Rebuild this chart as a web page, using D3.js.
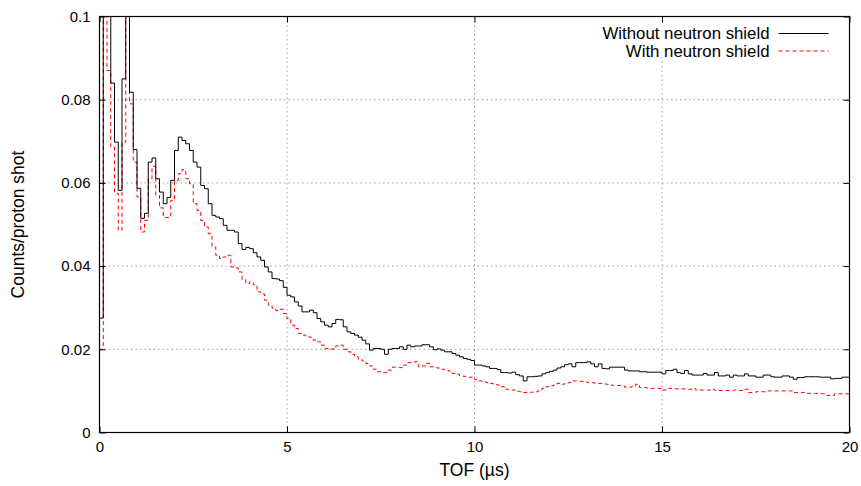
<!DOCTYPE html>
<html>
<head>
<meta charset="utf-8">
<script src="https://cdn.jsdelivr.net/npm/d3@7"></script>
<style>
  body { margin: 0; background: #fff; }
  svg { display: block; }
  text { font-family: "Liberation Sans", Arial, sans-serif; }
</style>
</head>
<body>
<svg id="chart" width="861" height="486"></svg>
<script>
// TOF histogram, 0.1 us bins from 0 to 20 us
const binWidth = 0.1;

const withoutShield = [
  0.0275, 0.12, 0.12, 0.084, 0.0698, 0.0582, 0.085, 0.12, 0.0818, 0.068,
  0.0587, 0.0515, 0.0527, 0.065, 0.066, 0.061, 0.0578, 0.055, 0.0565, 0.0606,
  0.0678, 0.071, 0.0702, 0.0694, 0.0678, 0.065, 0.0638, 0.0594, 0.0586, 0.055,
  0.0522, 0.0518, 0.0514, 0.0498, 0.0486, 0.0486, 0.0482, 0.0454, 0.044, 0.0445,
  0.0442, 0.0432, 0.0422, 0.0414, 0.0398, 0.0386, 0.037, 0.0369, 0.0365, 0.0349,
  0.033, 0.0326, 0.0314, 0.0304, 0.029, 0.029, 0.0294, 0.0288, 0.0274, 0.0266,
  0.0258, 0.0254, 0.0262, 0.0272, 0.0271, 0.0254, 0.0242, 0.0238, 0.0234, 0.0229,
  0.0222, 0.0213, 0.0198, 0.0202, 0.0202, 0.020, 0.0188, 0.020, 0.0202, 0.0202,
  0.0206, 0.020, 0.021, 0.0206, 0.0208, 0.0208, 0.0211, 0.0211, 0.0206, 0.0199,
  0.0201, 0.0198, 0.0194, 0.0194, 0.019, 0.0186, 0.0182, 0.0178, 0.0176, 0.0173,
  0.0162, 0.0162, 0.016, 0.0158, 0.0154, 0.0154, 0.0151, 0.0144, 0.0144, 0.0143,
  0.0145, 0.0139, 0.0136, 0.0124, 0.0134, 0.0134, 0.0135, 0.0136, 0.0141, 0.0144,
  0.0147, 0.015, 0.0155, 0.0158, 0.0163, 0.0165, 0.0158, 0.0168, 0.0168, 0.0168,
  0.017, 0.0165, 0.0158, 0.0165, 0.0154, 0.0153, 0.0157, 0.0157, 0.0157, 0.0157,
  0.015, 0.0148, 0.0148, 0.0148, 0.0146, 0.0146, 0.0145, 0.0145, 0.0145, 0.0145,
  0.0141, 0.0149, 0.0149, 0.0152, 0.0144, 0.0142, 0.0149, 0.0141, 0.0138, 0.0138,
  0.0138, 0.0142, 0.0138, 0.0138, 0.0144, 0.0136, 0.0136, 0.0138, 0.0133, 0.0138,
  0.0136, 0.0136, 0.0141, 0.0136, 0.0136, 0.0133, 0.0133, 0.0138, 0.0138, 0.0134,
  0.0133, 0.0133, 0.0136, 0.0136, 0.0133, 0.0128, 0.0132, 0.0132, 0.0134, 0.0134,
  0.0134, 0.0134, 0.0133, 0.0133, 0.0133, 0.0129, 0.013, 0.013, 0.0133, 0.0133
];

const withShield = [
  0.020, 0.12, 0.087, 0.0686, 0.0575, 0.0486, 0.0698, 0.12, 0.079, 0.065,
  0.0566, 0.0482, 0.051, 0.061, 0.064, 0.057, 0.054, 0.0517, 0.0517, 0.0558,
  0.0606, 0.0622, 0.0632, 0.061, 0.0598, 0.055, 0.0534, 0.051, 0.0494, 0.0478,
  0.0446, 0.0426, 0.0418, 0.0422, 0.0426, 0.0398, 0.0396, 0.0386, 0.0368, 0.0358,
  0.0362, 0.0355, 0.0338, 0.0333, 0.0318, 0.0306, 0.0299, 0.0293, 0.0296, 0.0286,
  0.0274, 0.0258, 0.025, 0.0238, 0.0234, 0.023, 0.0229, 0.0222, 0.0218, 0.021,
  0.0202, 0.020, 0.0201, 0.0208, 0.021, 0.020, 0.0194, 0.0188, 0.0182, 0.0176,
  0.0172, 0.0166, 0.016, 0.0152, 0.0146, 0.0144, 0.0144, 0.015, 0.0157, 0.0157,
  0.0156, 0.0162, 0.0168, 0.0168, 0.017, 0.0158, 0.016, 0.0166, 0.0158, 0.0157,
  0.0155, 0.0152, 0.015, 0.0148, 0.0142, 0.014, 0.0136, 0.0135, 0.0133, 0.0133,
  0.0127, 0.0124, 0.0122, 0.012, 0.0118, 0.0115, 0.0114, 0.011, 0.0104, 0.0102,
  0.0102, 0.0099, 0.0098, 0.0096, 0.0096, 0.0097, 0.0098, 0.0102, 0.0106, 0.011,
  0.0112, 0.0114, 0.0118, 0.0116, 0.0118, 0.012, 0.0124, 0.0124, 0.0123, 0.0123,
  0.012, 0.012, 0.0118, 0.0118, 0.0117, 0.0116, 0.0114, 0.0113, 0.0113, 0.0112,
  0.0109, 0.0109, 0.0111, 0.0116, 0.0108, 0.0108, 0.0106, 0.0106, 0.0106, 0.0106,
  0.0102, 0.0106, 0.0106, 0.0105, 0.0105, 0.0105, 0.0104, 0.0104, 0.0106, 0.0102,
  0.0102, 0.0102, 0.0102, 0.0104, 0.0101, 0.0101, 0.0101, 0.0101, 0.0101, 0.0102,
  0.0101, 0.0101, 0.0104, 0.0096, 0.0096, 0.0098, 0.0098, 0.0098, 0.01, 0.01,
  0.01, 0.01, 0.01, 0.01, 0.01, 0.0096, 0.0096, 0.0096, 0.0094, 0.0094,
  0.0094, 0.0094, 0.0093, 0.0093, 0.0089, 0.0089, 0.0093, 0.0093, 0.0093, 0.0093
];

const seriesNames = ["Without neutron shield", "With neutron shield"];
const xTicks = [0, 5, 10, 15, 20];
const yTicks = [0, 0.02, 0.04, 0.06, 0.08, 0.1];
const yTickLabels = ["0", "0.02", "0.04", "0.06", "0.08", "0.1"];
const xLabel = "TOF (\u00b5s)";
const yLabel = "Counts/proton shot";

const width = 861, height = 486;
const margin = { top: 16.5, right: 11.5, bottom: 53.5, left: 99.5 };
const innerW = width - margin.left - margin.right;
const innerH = height - margin.top - margin.bottom;

const svg = d3.select("#chart");
const g = svg.append("g").attr("transform", `translate(${margin.left},${margin.top})`);

const x = d3.scaleLinear().domain([0, 20]).range([0, innerW]);
const y = d3.scaleLinear().domain([0, 0.1]).range([innerH, 0]);

// dotted grid
g.append("g")
  .selectAll("line")
  .data(xTicks.slice(1, -1))
  .join("line")
  .attr("x1", d => x(d)).attr("x2", d => x(d))
  .attr("y1", 0).attr("y2", innerH)
  .attr("stroke", "#a0a0a0")
  .attr("stroke-dasharray", "1.5,3");

g.append("g")
  .selectAll("line")
  .data(yTicks.slice(1, -1))
  .join("line")
  .attr("x1", 0).attr("x2", innerW)
  .attr("y1", d => y(d)).attr("y2", d => y(d))
  .attr("stroke", "#a0a0a0")
  .attr("stroke-dasharray", "1.5,3");

// step lines
g.append("clipPath").attr("id", "plot-clip")
  .append("rect").attr("width", innerW).attr("height", innerH);

const toSteps = vals => vals.map((v, i) => [i * binWidth, v]).concat([[vals.length * binWidth, vals[vals.length - 1]]]);

const line = d3.line()
  .x(d => x(d[0]))
  .y(d => y(d[1]))
  .curve(d3.curveStepAfter);

const plot = g.append("g").attr("clip-path", "url(#plot-clip)");

plot.append("path")
  .datum(toSteps(withShield))
  .attr("fill", "none")
  .attr("stroke", "#ff0000")
  .attr("stroke-width", 1)
  .attr("stroke-dasharray", "4,3")
  .attr("d", line);

plot.append("path")
  .datum(toSteps(withoutShield))
  .attr("fill", "none")
  .attr("stroke", "#000")
  .attr("stroke-width", 1)
  .attr("d", line);

// legend (white box hides grid behind it)
const legend = g.append("g");
legend.append("rect")
  .attr("x", x(13.2)).attr("y", 1)
  .attr("width", innerW - x(13.2) - 6).attr("height", 40)
  .attr("fill", "#fff");

const legendRows = [
  { name: seriesNames[0], color: "#000", dash: null },
  { name: seriesNames[1], color: "#ff0000", dash: "4,3" }
];
legendRows.forEach((r, i) => {
  const ly = 17 + i * 17.5;
  legend.append("text")
    .attr("x", 670).attr("y", ly + 5.5)
    .attr("text-anchor", "end")
    .attr("font-size", 16.8)
    .text(r.name);
  legend.append("line")
    .attr("x1", 679).attr("x2", 729)
    .attr("y1", ly).attr("y2", ly)
    .attr("stroke", r.color)
    .attr("stroke-dasharray", r.dash);
});

// axes with inward ticks on all sides
const fmt = d => yTickLabels[yTicks.indexOf(d)];

g.append("g")
  .attr("transform", `translate(0,${innerH})`)
  .call(d3.axisBottom(x).tickValues(xTicks).tickSizeInner(-6).tickSizeOuter(0).tickPadding(9));
g.append("g")
  .call(d3.axisTop(x).tickValues(xTicks).tickSizeInner(-6).tickSizeOuter(0).tickFormat(""));
g.append("g")
  .call(d3.axisLeft(y).tickValues(yTicks).tickFormat(fmt).tickSizeInner(-6).tickSizeOuter(0).tickPadding(9));
g.append("g")
  .attr("transform", `translate(${innerW},0)`)
  .call(d3.axisRight(y).tickValues(yTicks).tickSizeInner(-6).tickSizeOuter(0).tickFormat(""));

g.selectAll(".domain").remove();
g.selectAll(".tick line").attr("stroke", "#000");
g.selectAll(".tick text")
  .attr("font-size", 15)
  .attr("fill", "#000")
  .style("font-family", "'Liberation Sans', Arial, sans-serif");

// border
g.append("rect")
  .attr("width", innerW).attr("height", innerH)
  .attr("fill", "none")
  .attr("stroke", "#000")
  .attr("stroke-width", 1.2);

// axis titles
svg.append("text")
  .attr("x", margin.left + innerW / 2).attr("y", 476)
  .attr("text-anchor", "middle")
  .attr("font-size", 17.5)
  .text(xLabel);

svg.append("text")
  .attr("transform", `translate(24,${margin.top + innerH / 2}) rotate(-90)`)
  .attr("text-anchor", "middle")
  .attr("font-size", 17.5)
  .text(yLabel);
</script>
</body>
</html>
